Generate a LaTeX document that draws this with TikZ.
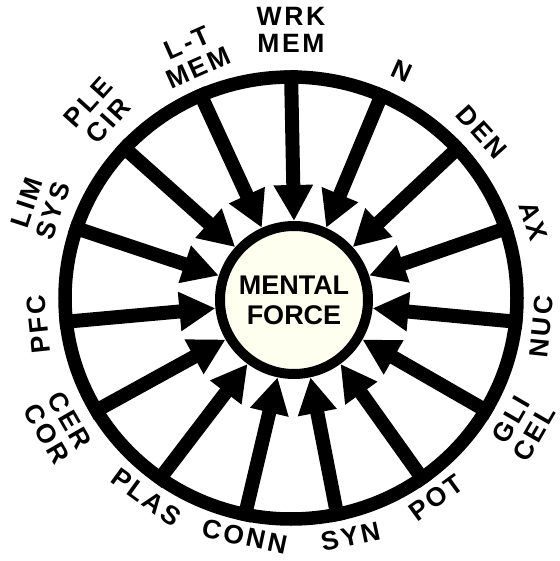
\documentclass[tikz,border=0pt]{standalone}
\usepackage{fontspec}
\usetikzlibrary{arrows.meta,shapes.geometric}
\newfontfamily\lblfont[LetterSpace=10]{Liberation Sans}
\newfontfamily\corefont{Liberation Sans}
\definecolor{corefill}{RGB}{255,255,240}

\begin{document}
\begin{tikzpicture}[
    x=1pt, y=1pt,
    lbl/.style={font=\lblfont\bfseries\fontsize{26.5}{27}\selectfont, align=center, inner sep=0pt},
    link/.style={line width=14pt, -{Triangle[length=36pt, width=37pt]}}
]
\useasboundingbox (-291,-263) rectangle (268,298);
\node[draw, ellipse, line width=13.5pt, minimum width=452pt, minimum height=442pt, inner sep=0pt] (ring) at (0,0) {};
\node[draw, circle, line width=10pt, fill=corefill, minimum size=148pt, inner sep=0pt,
      font=\corefont\bfseries\fontsize{27}{30}\selectfont, align=center] (core) at (3,-2) {MENTAL\\FORCE};
% spokes into the core
\draw[link] (ring.90) -- (core.90);
\draw[link] (ring.66) -- (core.66);
\draw[link] (ring.42) -- (core.42);
\draw[link] (ring.18) -- (core.18);
\draw[link] (ring.-6) -- (core.-6);
\draw[link] (ring.-30) -- (core.-30);
\draw[link] (ring.-54) -- (core.-54);
\draw[link] (ring.-78) -- (core.-78);
\draw[link] (ring.-102) -- (core.-102);
\draw[link] (ring.-126) -- (core.-126);
\draw[link] (ring.-150) -- (core.-150);
\draw[link] (ring.186) -- (core.186);
\draw[link] (ring.162) -- (core.162);
\draw[link] (ring.138) -- (core.138);
\draw[link] (ring.114) -- (core.114);
% labels round the ring
\node[lbl] (wrk) at (90:268) {WRK\\MEM};
\node[lbl, rotate=-24] (n) at (64:252) {N};
\node[lbl, rotate=-48] (den) at (41:253) {DEN};
\node[lbl, rotate=-72] (ax) at (17.6:254) {AX};
\node[lbl, rotate=84] (nuc) at (-6.5:252) {NUC};
\node[lbl, rotate=60] (gli) at (-29:265) {GLI\\CEL};
\node[lbl, rotate=36] (pot) at (-54:247) {POT};
\node[lbl, rotate=12] (syn) at (-76:246) {SYN};
\node[lbl, rotate=-12] (conn) at (-101:243) {CONN};
\node[lbl, rotate=-36] (plas) at (-126:246) {PLAS};
\node[lbl, rotate=-60] (cer) at (-151:266) {CER\\COR};
\node[lbl, rotate=96] (pfc) at (186:254) {PFC};
\node[lbl, rotate=72] (lim) at (160:267) {LIM\\SYS};
\node[lbl, rotate=48] (ple) at (136:268) {PLE\\CIR};
\node[lbl, rotate=24] (ltm) at (112:262) {L-T\\MEM};
\end{tikzpicture}
\end{document}
